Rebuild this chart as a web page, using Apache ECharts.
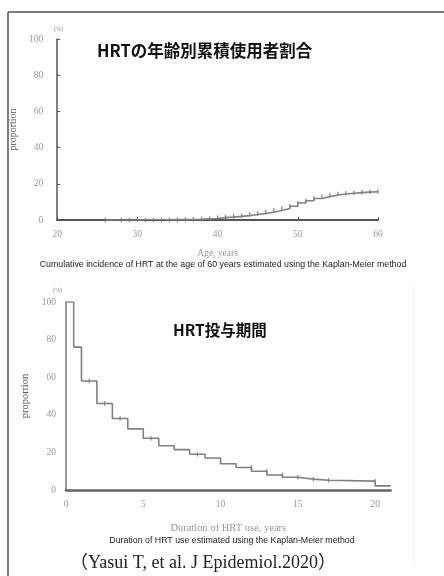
<!DOCTYPE html>
<html>
<head>
<meta charset="utf-8">
<script src="https://cdn.jsdelivr.net/npm/echarts@6/dist/echarts.min.js"></script>
<style>
html,body{margin:0;padding:0;background:#fff;}
#c{width:444px;height:576px;}
</style>
</head>
<body>
<div id="c"></div>
<script>
// ---- Data ----
var ageYears = [26,28,29,30,31,32,33,34,35,36,37,38,39,40,41,42,43,44,45,46,47,48,49,50,51,52,53,54,55,56,57,58,59,60];
var ageCumIncidence = [0,0,0,0.1,0.1,0.1,0.1,0.2,0.2,0.3,0.4,0.6,0.8,1.3,1.6,2.0,2.4,3.0,3.6,4.3,5.2,6.3,7.6,9.4,10.6,11.9,12.9,13.8,14.4,14.8,15.1,15.4,15.6,15.8];
var ageTicks = [20,30,40,50,60];

var durYears = [0,0.5,1,2,3,4,5,6,7,8,9,10,11,12,13,14,15,16,17,20,21];
var durProportion = [100,76,58,46,38,32.5,27.5,23.5,21.5,19,17,14,12,10,8,6.8,5.8,5.2,4.7,2.2,2.2];
var durCensorTimes = [1.5,2.5,3.5,5.5,8.5,12,13,14,15,16,17,20];
var durTicks = [0,5,10,15,20];
var propTicks = [0,20,40,60,80,100];

var titleTop = 'HRTの年齢別累積使用者割合';
var titleBottom = 'HRT投与期間';
var captionTop = 'Cumulative incidence of HRT at the age of 60 years estimated using the Kaplan-Meier method';
var captionBottom = 'Duration of HRT use estimated using the Kaplan-Meier method';
var citation = '（Yasui T, et al. J Epidemiol.2020）';

// step lookup (value holding just before time t)
function stepBefore(xs, ys, t) {
  var v = ys[0];
  for (var i = 0; i < xs.length; i++) { if (xs[i] < t) v = ys[i]; }
  return v;
}

var topLine = ageYears.map(function(a,i){return [a, ageCumIncidence[i]];});
var topMarks = ageYears.map(function(a,i){return [a, ageCumIncidence[i]];});
var botLine = durYears.map(function(t,i){return [t, durProportion[i]];});
var botMarks = durCensorTimes.map(function(t){return [t, stepBefore(durYears, durProportion, t)];});

var serif = 'Liberation Serif, DejaVu Serif, serif';
var sans = 'Liberation Sans, Arial, sans-serif';
var jp = 'Noto Sans CJK JP, sans-serif';

var chart = echarts.init(document.getElementById('c'), null, {renderer:'canvas'});
chart.setOption({
  backgroundColor: '#fff',
  animation: false,
  grid: [
    {left: 53, top: 39, width: 325, height: 181},
    {left: 66, top: 302, width: 324.6, height: 188}
  ],
  xAxis: [
    {gridIndex:0, type:'value', min: ageTicks[0], max: ageTicks[ageTicks.length-1], interval: 10,
     name:'Age, years', nameLocation:'middle', nameGap: 28,
     nameTextStyle:{fontFamily:serif, fontSize:9.5, color:'#999'},
     axisLine:{lineStyle:{color:'#555', width:2}},
     axisTick:{show:true, inside:true, length:3, lineStyle:{color:'#555'}},
     splitLine:{show:false},
     axisLabel:{fontFamily:serif, fontSize:9.5, color:'#999', margin:9}},
    {gridIndex:1, type:'value', min: 0, max: 21, interval: 5,
     name:'Duration of HRT use, years', nameLocation:'middle', nameGap: 33,
     nameTextStyle:{fontFamily:serif, fontSize:10.5, color:'#999'},
     axisLine:{lineStyle:{color:'#666', width:2.5}},
     axisTick:{show:false},
     splitLine:{show:false},
     axisLabel:{fontFamily:serif, fontSize:9.5, color:'#999', margin:9,
       formatter:function(v){return durTicks.indexOf(v) >= 0 ? String(v) : '';}}}
  ],
  yAxis: [
    {gridIndex:0, type:'value', min:0, max:100, interval:20,
     name:'proportion', nameLocation:'middle', nameRotate:90, nameGap:27,
     nameTextStyle:{fontFamily:serif, fontSize:10, color:'#555'},
     axisLine:{show:true, lineStyle:{color:'#555', width:1.5}},
     axisTick:{show:true, inside:true, length:3, lineStyle:{color:'#555'}},
     splitLine:{show:false},
     axisLabel:{fontFamily:serif, fontSize:9.5, color:'#999', margin:14}},
    {gridIndex:1, type:'value', min:0, max:100, interval:20,
     name:'proportion', nameLocation:'middle', nameRotate:90, nameGap:32,
     nameTextStyle:{fontFamily:serif, fontSize:10.5, color:'#555'},
     axisLine:{show:true, lineStyle:{color:'#777', width:1.5}},
     axisTick:{show:false},
     splitLine:{show:false},
     axisLabel:{fontFamily:serif, fontSize:9.5, color:'#999', margin:10}}
  ],
  series: [
    {type:'line', xAxisIndex:0, yAxisIndex:0, step:'end', data: topLine, showSymbol:false, symbol:'none',
     lineStyle:{color:'#808080', width:1.6}},
    {type:'scatter', xAxisIndex:0, yAxisIndex:0, data: topMarks, symbol:'rect', symbolSize:[1.3,4.5],
     itemStyle:{color:'#707070'}},
    {type:'line', xAxisIndex:1, yAxisIndex:1, step:'end', data: botLine, showSymbol:false, symbol:'none',
     lineStyle:{color:'#808080', width:1.6}},
    {type:'scatter', xAxisIndex:1, yAxisIndex:1, data: botMarks, symbol:'rect', symbolSize:[1.3,4.5],
     itemStyle:{color:'#707070'}}
  ],
  graphic: [
    {type:'line', shape:{x1:8, y1:12, x2:444, y2:12}, style:{stroke:'#555', lineWidth:1.5}},
    {type:'line', shape:{x1:8, y1:12, x2:8, y2:576}, style:{stroke:'#555', lineWidth:1.5}},
    {type:'line', shape:{x1:414, y1:284, x2:414, y2:566}, style:{stroke:'#f0f0f0', lineWidth:1}},
    {type:'text', left:54, top:26, style:{text:'(%)', font:'6px ' + serif, fill:'#888'}},
    {type:'text', left:53, top:287, style:{text:'(%)', font:'6px ' + serif, fill:'#888'}},
    {type:'text', left:97, top:42, style:{text:titleTop, font:'bold 16.5px ' + jp, fill:'#111'}},
    {type:'text', left:173, top:322, style:{text:titleBottom, font:'bold 15.5px ' + jp, fill:'#111'}},
    {type:'text', x:223, y:265, style:{text:captionTop, font:'8.8px ' + sans, fill:'#222', textAlign:'center', textVerticalAlign:'middle'}},
    {type:'text', x:232, y:541, style:{text:captionBottom, font:'8.8px ' + sans, fill:'#222', textAlign:'center', textVerticalAlign:'middle'}},
    {type:'text', x:203, y:563, style:{text:citation, font:'18px ' + serif + ', Noto Sans CJK JP', fill:'#222', textAlign:'center', textVerticalAlign:'middle'}}
  ]
});
</script>
</body>
</html>
